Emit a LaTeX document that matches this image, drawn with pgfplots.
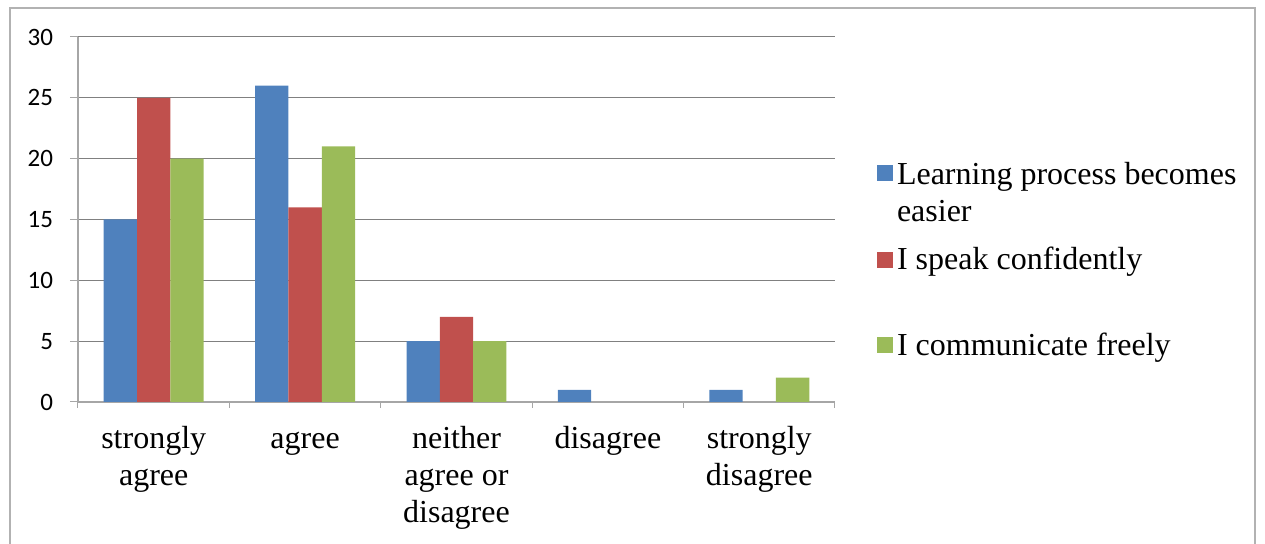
\documentclass[border=0pt]{standalone}
\usepackage{pgfplots}
\pgfplotsset{compat=1.18}
\usepackage{fontspec}
\setmainfont{Liberation Serif}
\newfontfamily\carlito{Carlito}
\definecolor{cblue}{HTML}{4F81BD}
\definecolor{cred}{HTML}{C0504D}
\definecolor{cgreen}{HTML}{9BBB59}
\begin{document}
\begin{tikzpicture}
\useasboundingbox (0,0) rectangle (632.5pt,272pt);
\draw[gray!60, line width=0.8pt] (5pt,-3pt) rectangle (627.5pt,268pt);
\begin{axis}[
  at={(39pt,71pt)}, anchor=south west,
  scale only axis, width=378.5pt, height=182.5pt,
  ybar=0pt, bar width=0.22,
  xmin=-0.5, xmax=4.5, ymin=0, ymax=30,
  axis x line=bottom, axis y line=left,
  axis line style={-, gray!70, line width=0.6pt},
  ytick={0,5,...,30},
  ymajorgrids, grid style={black!50, line width=0.5pt},
  tick align=outside,
  ytick style={gray!70, line width=0.5pt},
  major tick length=4pt,
  yticklabel style={font=\carlito\fontsize{12.5}{14}\selectfont, xshift=-5pt},
  /pgf/number format/assume math mode=true,
  xtick={0,1,2,3,4},
  xticklabels={\strut strongly\\agree, \strut agree, \strut neither\\agree or\\disagree, \strut disagree, \strut strongly\\disagree},
  xticklabel style={font=\fontsize{16}{18.5}\selectfont, align=center, yshift=-3pt},
  x tick style={draw=none},
  minor xtick={-0.5,0.5,...,4.5},
  minor x tick style={draw=gray!70, line width=0.5pt},
  minor tick length=3pt,
  legend style={draw=none, fill=none, at={(1.055,0.68)}, anchor=north west,
    font=\fontsize{16}{18.5}\selectfont, cells={anchor=west}, row sep=26pt,
    inner sep=0pt},
  legend image code/.code={\fill[#1] (0pt,-4pt) rectangle (8pt,4pt);},
]
\addplot[fill=cblue, draw=none] coordinates {(0,15) (1,26) (2,5) (3,1) (4,1)};
\addplot[fill=cred, draw=none] coordinates {(0,25) (1,16) (2,7)};
\addplot[fill=cgreen, draw=none] coordinates {(0,20) (1,21) (2,5) (4,2)};
\legend{\begin{tabular}[t]{@{}l@{}}Learning process becomes\\easier\end{tabular},
  I speak confidently,
  I communicate freely}
\end{axis}
\end{tikzpicture}
\end{document}
